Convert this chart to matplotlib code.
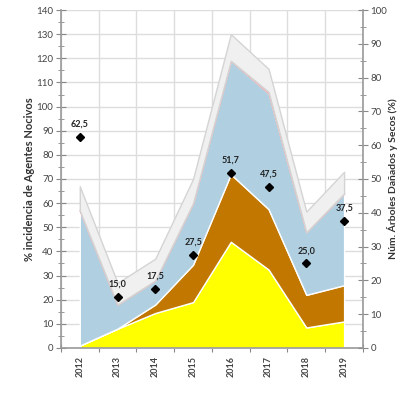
import numpy as np
import matplotlib
matplotlib.use("Agg")
import matplotlib.pyplot as plt
from matplotlib.ticker import MultipleLocator, FixedLocator

plt.rcParams['font.family'] = ['Lato', 'DejaVu Sans']

# Data
years = ['2012', '2013', '2014', '2015', '2016', '2017', '2018', '2019']
yellow = [1, 8, 14.5, 19, 44, 32.5, 8.5, 11]
orange = [0, 0, 3.5, 15.5, 28, 25, 13.5, 15]
blue = [56, 10, 10, 25.5, 47, 48, 26, 38]
red = [0, 0, 0, 0, 0, 0.6, 0, 0]
grey = [10, 9, 9, 10, 11, 9.5, 8.5, 9]
damaged = [62.5, 15.0, 17.5, 27.5, 51.7, 47.5, 25.0, 37.5]
damaged_labels = ['62,5', '15,0', '17,5', '27,5', '51,7', '47,5', '25,0', '37,5']

x = np.arange(len(years))

fig = plt.figure(figsize=(3.98, 3.94), dpi=100)
ax = fig.add_axes([0.153, 0.1168, 0.759, 0.8578])

# Stacked areas
layers = [yellow, orange, blue, red, grey]
colors = ['#ffff00', '#c27800', '#b0d0e2', '#e07070', '#f0f0f0']
edges = ['white', 'white', 'white', '#f0b0b0', '#d4d4d4']
base = np.zeros(len(x))
for vals, c, ec in zip(layers, colors, edges):
    top = base + np.array(vals)
    ax.fill_between(x, base, top, facecolor=c, edgecolor=ec, linewidth=1, zorder=2)
    base = top

ax.set_xlim(-0.5, 7.5)
ax.set_ylim(0, 140)
ax.yaxis.set_major_locator(MultipleLocator(10))
ax.yaxis.set_minor_locator(MultipleLocator(5))
ax.xaxis.set_major_locator(FixedLocator(np.arange(-0.5, 8.0, 1)))
ax.set_xticklabels([])
ax.xaxis.set_minor_locator(FixedLocator(x))
ax.set_xticklabels(years, minor=True, rotation=90, fontsize=6.5,
                   fontweight='bold', color='#444444')
ax.tick_params(axis='x', which='minor', length=0, pad=6)
ax.tick_params(axis='x', which='major', direction='inout', length=6, color='#888888')
ax.tick_params(axis='y', which='major', direction='inout', length=7, pad=2,
               color='#888888', labelsize=7, labelcolor='#444444')
ax.tick_params(axis='y', which='minor', direction='inout', length=4, color='#888888')
ax.grid(True, which='major', color='#dddddd', linewidth=1, zorder=0)
ax.set_axisbelow(True)
for s in ['top', 'right']:
    ax.spines[s].set_visible(False)
for s in ['left', 'bottom']:
    ax.spines[s].set_color('#999999')
    ax.spines[s].set_linewidth(1.2)
ax.set_ylabel('% incidencia de Agentes Nocivos', fontsize=8,
              fontweight='bold', color='#333333', labelpad=1)

# Right axis with damaged trees
ax2 = ax.twinx()
ax2.set_ylim(0, 100)
ax2.yaxis.set_major_locator(MultipleLocator(10))
ax2.yaxis.set_minor_locator(MultipleLocator(5))
ax2.tick_params(axis='y', which='major', direction='inout', length=7, pad=2,
                color='#888888', labelsize=7, labelcolor='#444444')
ax2.tick_params(axis='y', which='minor', direction='inout', length=4, color='#888888')
for s in ['top', 'left', 'bottom']:
    ax2.spines[s].set_visible(False)
ax2.spines['right'].set_color('#999999')
ax2.spines['right'].set_linewidth(1.2)
ax2.plot(x, damaged, linestyle='none', marker='D', markersize=4,
         color='black', zorder=5)
for xi, v, lab in zip(x, damaged, damaged_labels):
    ax2.annotate(lab, (xi, v), xytext=(0, 6), textcoords='offset points',
                 ha='center', va='bottom', fontsize=6.5, fontweight='bold',
                 color='#222222')
ax2.set_ylabel('Núm. Árboles Dañados y Secos (%)', fontsize=7.5,
               fontweight='bold', color='#333333', labelpad=0)

fig.savefig('out.png', dpi=100)
